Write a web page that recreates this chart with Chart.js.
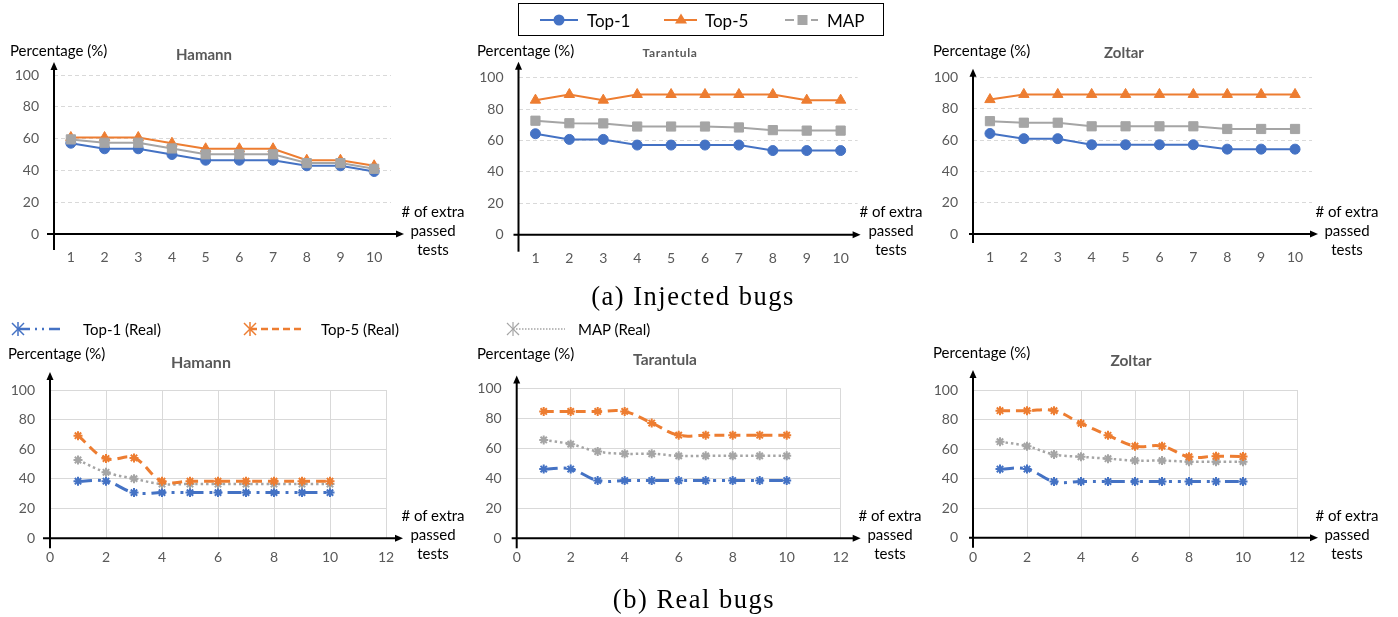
<!DOCTYPE html>
<html><head><meta charset="utf-8">
<script src="https://cdn.jsdelivr.net/npm/chart.js@4.4.1/dist/chart.umd.min.js"></script>
<style>
html,body{margin:0;padding:0;background:#fff;}
#page{position:relative;width:1398px;height:617px;overflow:hidden;font-family:Lato,'Open Sans',sans-serif;}
canvas{position:absolute;}
.t{position:absolute;white-space:nowrap;}
.c{transform:translate(-50%,-50%);}
.l{transform:translateY(-50%);}
.ylab{font-size:15px;color:#000;}
.title{font-weight:bold;color:#595959;}
.xlab{font-size:15px;color:#000;text-align:center;line-height:19px;transform:translate(-50%,0);}
.cap{font-family:'Liberation Serif',serif;font-size:26.5px;color:#000;letter-spacing:1.5px;}
.leg{font-size:17px;color:#000;}
.leg2{font-size:15px;color:#000;}
</style></head>
<body><div id="page">
<div id="legTop" style="position:absolute;left:518px;top:3px;width:364px;height:31px;border:1.5px solid #000;"></div>
<svg style="position:absolute;left:0;top:0" width="1398" height="617" id="legsvg">
  <line x1="540" y1="20" x2="578" y2="20" stroke="#4472C4" stroke-width="2"/>
  <circle cx="559" cy="20" r="5.5" fill="#4472C4"/>
  <line x1="664" y1="20" x2="697" y2="20" stroke="#ED7D31" stroke-width="2"/>
  <polygon points="681,13.5 687,23.5 675,23.5" fill="#ED7D31"/>
  <line x1="785" y1="20" x2="794" y2="20" stroke="#A5A5A5" stroke-width="2"/>
  <rect x="797.5" y="15" width="10" height="10" fill="#A5A5A5"/>
  <line x1="811" y1="20" x2="818" y2="20" stroke="#A5A5A5" stroke-width="2"/>
  <g stroke="#4472C4" stroke-width="1.5">
    <line x1="12" y1="323" x2="24" y2="335"/><line x1="12" y1="335" x2="24" y2="323"/><line x1="18" y1="322" x2="18" y2="336"/>
  </g>
  <path d="M18 329 H60" stroke="#4472C4" stroke-width="2.5" stroke-dasharray="12,5,2,5,2,5,20"/>
  <g stroke="#ED7D31" stroke-width="1.5">
    <line x1="244" y1="323" x2="256" y2="335"/><line x1="244" y1="335" x2="256" y2="323"/><line x1="250" y1="322" x2="250" y2="336"/>
  </g>
  <path d="M250 329 H304" stroke="#ED7D31" stroke-width="2.5" stroke-dasharray="7,4"/>
  <g stroke="#A5A5A5" stroke-width="1.2">
    <line x1="507" y1="323" x2="519" y2="335"/><line x1="507" y1="335" x2="519" y2="323"/><line x1="513" y1="322" x2="513" y2="336"/>
  </g>
  <path d="M513 329 H565" stroke="#A5A5A5" stroke-width="1.5" stroke-dasharray="1.5,1.5"/>
</svg>
<div class="t leg l" style="left:587px;top:20px">Top-1</div>
<div class="t leg l" style="left:705px;top:20px">Top-5</div>
<div class="t leg l" style="left:827px;top:20px">MAP</div>
<div class="t leg2 l" style="left:83px;top:329px">Top-1 (Real)</div>
<div class="t leg2 l" style="left:321px;top:329px">Top-5 (Real)</div>
<div class="t leg2 l" style="left:578px;top:329px">MAP (Real)</div>

<div class="t ylab l" style="left:10px;top:50px">Percentage (%)</div>
<div class="t ylab l" style="left:477px;top:50px">Percentage (%)</div>
<div class="t ylab l" style="left:933px;top:50px">Percentage (%)</div>
<div class="t ylab l" style="left:8px;top:353px">Percentage (%)</div>
<div class="t ylab l" style="left:477px;top:353px">Percentage (%)</div>
<div class="t ylab l" style="left:933px;top:352px">Percentage (%)</div>

<div class="t title c" style="left:204px;top:54px;font-size:15px">Hamann</div>
<div class="t title c" style="left:670px;top:52px;font-size:12px;letter-spacing:0.6px">Tarantula</div>
<div class="t title c" style="left:1124px;top:52px;font-size:15px">Zoltar</div>
<div class="t title c" style="left:201px;top:361px;font-size:16px">Hamann</div>
<div class="t title c" style="left:665px;top:359px;font-size:15.5px">Tarantula</div>
<div class="t title c" style="left:1131px;top:360px;font-size:15.5px">Zoltar</div>

<div class="t xlab" style="left:433px;top:202px"># of extra<br>passed<br>tests</div>
<div class="t xlab" style="left:891px;top:202px"># of extra<br>passed<br>tests</div>
<div class="t xlab" style="left:1347px;top:202px"># of extra<br>passed<br>tests</div>
<div class="t xlab" style="left:433px;top:506px"># of extra<br>passed<br>tests</div>
<div class="t xlab" style="left:890px;top:506px"># of extra<br>passed<br>tests</div>
<div class="t xlab" style="left:1347px;top:506px"># of extra<br>passed<br>tests</div>

<div class="t cap c" style="left:693px;top:296px">(a) Injected bugs</div>
<div class="t cap c" style="left:694px;top:599px">(b) Real bugs</div>
</div>
<script>
// ---------- DATA ----------
const xCats = ['1','2','3','4','5','6','7','8','9','10'];
const realX = [1,2,3,4,5,6,7,8,9,10];
const yTicks = [0,20,40,60,80,100];
const xTicksReal = [0,2,4,6,8,10,12];

const hamannTop1 = [57.1, 53.6, 53.6, 50.0, 46.4, 46.4, 46.4, 42.9, 42.9, 39.3];
const hamannTop5 = [60.7, 60.7, 60.7, 57.1, 53.6, 53.6, 53.6, 46.4, 46.4, 42.9];
const hamannMAP  = [59.5, 57.4, 57.4, 53.8, 50.1, 50.1, 50.1, 44.6, 44.6, 41.0];

const tarantulaTop1 = [64.3, 60.7, 60.7, 57.1, 57.1, 57.1, 57.1, 53.6, 53.6, 53.6];
const tarantulaTop5 = [85.7, 89.3, 85.7, 89.3, 89.3, 89.3, 89.3, 89.3, 85.7, 85.7];
const tarantulaMAP  = [72.6, 71.0, 70.9, 68.9, 68.9, 68.9, 68.3, 66.6, 66.3, 66.3];

const zoltarTop1 = [64.3, 61.0, 61.0, 57.1, 57.1, 57.1, 57.1, 54.3, 54.3, 54.3];
const zoltarTop5 = [86.0, 89.3, 89.3, 89.3, 89.3, 89.3, 89.3, 89.3, 89.3, 89.3];
const zoltarMAP  = [72.2, 71.2, 71.2, 68.9, 68.9, 68.9, 68.9, 67.2, 67.2, 67.2];

const hamannRealTop1 = [38.5, 38.5, 30.8, 30.8, 30.8, 30.8, 30.8, 30.8, 30.8, 30.8];
const hamannRealTop5 = [69.2, 53.8, 54.2, 38.5, 38.5, 38.5, 38.5, 38.5, 38.5, 38.5];
const hamannRealMAP  = [52.8, 44.5, 40.2, 36.6, 36.6, 36.6, 36.6, 36.6, 36.6, 36.6];

const tarantulaRealTop1 = [46.2, 46.2, 38.5, 38.5, 38.5, 38.5, 38.5, 38.5, 38.5, 38.5];
const tarantulaRealTop5 = [84.6, 84.6, 84.6, 84.6, 76.9, 68.8, 68.8, 68.8, 68.8, 68.8];
const tarantulaRealMAP  = [65.6, 62.8, 57.9, 56.4, 56.4, 55.0, 55.0, 55.0, 55.0, 55.0];

const zoltarRealTop1 = [46.5, 46.5, 38.0, 38.0, 38.0, 38.0, 38.0, 38.0, 38.0, 38.0];
const zoltarRealTop5 = [86.0, 86.0, 86.0, 77.4, 69.3, 62.0, 62.0, 54.8, 55.2, 55.0];
const zoltarRealMAP  = [65.0, 62.0, 56.4, 54.8, 53.5, 52.2, 52.2, 51.5, 51.5, 51.5];

// ---------- STYLE / LAYOUT ----------
const BLUE = '#4472C4', ORANGE = '#ED7D31', GRAY = '#A5A5A5', TICK = '#595959', GRID = '#d9d9d9';
Chart.defaults.font.family = 'Lato, "Open Sans", sans-serif';

const LAYOUT = {
  c1: {box:[0,40,460,235],   area:[54,75,391,234],     xH:40, tickPad:15, arrow:{above:13,below:16,left:7,right:13}},
  c2: {box:[460,40,460,235], area:[518.5,77.7,857.6,234.7], xH:40, tickPad:15, arrow:{above:16,below:17,left:5,right:3}},
  c3: {box:[920,40,478,235], area:[973,77.7,1312,234], xH:40, tickPad:15, arrow:{above:9,below:9,left:4,right:6}},
  c4: {box:[0,365,460,210],   area:[50,390,386,538.3],  xH:36, tickPad:11, arrow:{above:18,below:10,left:7,right:17}},
  c5: {box:[460,365,460,210], area:[516.7,384,840.7,538.3], xH:36, tickPad:11, arrow:{above:13,below:10,left:5,right:20}},
  c6: {box:[920,365,478,210], area:[973,390,1297,537.7], xH:36, tickPad:11, arrow:{above:20,below:10,left:4,right:21}}
};

const arrowAxes = {
  id: 'arrowAxes',
  afterDraw(chart, args, o) {
    const ctx = chart.ctx, a = chart.chartArea;
    const x0 = chart.scales.x.left;
    const y0 = chart.scales.y.getPixelForValue(0);
    ctx.save();
    ctx.strokeStyle = '#000'; ctx.fillStyle = '#000'; ctx.lineWidth = 2;
    const yTop = a.top - o.above;
    ctx.beginPath(); ctx.moveTo(x0, a.bottom + o.below); ctx.lineTo(x0, yTop + 6); ctx.stroke();
    ctx.beginPath(); ctx.moveTo(x0, yTop); ctx.lineTo(x0 - 3.5, yTop + 8); ctx.lineTo(x0 + 3.5, yTop + 8); ctx.closePath(); ctx.fill();
    const xEnd = a.right + o.right;
    ctx.beginPath(); ctx.moveTo(a.left - o.left, y0); ctx.lineTo(xEnd - 6, y0); ctx.stroke();
    ctx.beginPath(); ctx.moveTo(xEnd, y0); ctx.lineTo(xEnd - 8, y0 - 3.5); ctx.lineTo(xEnd - 8, y0 + 3.5); ctx.closePath(); ctx.fill();
    ctx.restore();
  }
};

function makeChart(id, datasets, injected) {
  const L = LAYOUT[id];
  const page = document.getElementById('page');
  const cv = document.createElement('canvas');
  cv.width = L.box[2]; cv.height = L.box[3];
  cv.style.left = L.box[0] + 'px'; cv.style.top = L.box[1] + 'px';
  cv.style.width = L.box[2] + 'px'; cv.style.height = L.box[3] + 'px';
  page.insertBefore(cv, page.firstChild);
  const yW = L.area[0] - L.box[0];
  const pad = {
    left: 0,
    top: L.area[1] - L.box[1],
    right: L.box[0] + L.box[2] - L.area[2],
    bottom: Math.max(0, L.box[1] + L.box[3] - L.area[3] - L.xH)
  };
  const tickFont = {size: 14, family: 'Lato, "Open Sans", sans-serif'};
  const xScale = injected ? {
    type: 'category', labels: xCats, offset: true,
    grid: {display: false, drawTicks: false}, border: {display: false},
    ticks: {color: TICK, font: tickFont, padding: L.tickPad, maxRotation: 0, autoSkip: false},
    afterFit: s => { s.height = L.xH; }
  } : {
    type: 'linear', min: 0, max: 12,
    afterBuildTicks: s => { s.ticks = xTicksReal.map(v => ({value: v})); },
    grid: {display: true, color: GRID, lineWidth: 1, drawTicks: false}, border: {display: false},
    ticks: {color: TICK, font: tickFont, padding: L.tickPad, maxRotation: 0},
    afterFit: s => { s.height = L.xH; }
  };
  return new Chart(cv, {
    type: 'line',
    data: injected ? {labels: xCats, datasets} : {datasets},
    options: {
      responsive: false, animation: false, devicePixelRatio: 1,
      layout: {padding: pad},
      plugins: {legend: {display: false}, tooltip: {enabled: false}, title: {display: false}, arrowAxes: L.arrow},
      scales: {
        x: xScale,
        y: {
          min: 0, max: 100,
          afterBuildTicks: s => { s.ticks = yTicks.map(v => ({value: v})); },
          grid: {display: true, color: GRID, lineWidth: 1, drawTicks: false},
          border: {display: false, dash: injected ? [4, 3] : []},
          ticks: {color: TICK, font: tickFont, padding: 15},
          afterFit: s => { s.width = yW; }
        }
      }
    },
    plugins: [arrowAxes]
  });
}

function injSets(t1, t5, map) {
  return [
    {data: t1, borderColor: BLUE, backgroundColor: BLUE, borderWidth: 2, pointStyle: 'circle', pointRadius: 5, pointBorderWidth: 1, pointBorderColor: BLUE, pointBackgroundColor: BLUE, tension: 0, order: 3},
    {data: t5, borderColor: ORANGE, backgroundColor: ORANGE, borderWidth: 2, pointStyle: 'triangle', pointRadius: 6, pointBorderWidth: 1, pointBorderColor: ORANGE, pointBackgroundColor: ORANGE, tension: 0, order: 2},
    {data: map, borderColor: GRAY, backgroundColor: GRAY, borderWidth: 2, pointStyle: 'rect', pointRadius: 6.5, pointBorderWidth: 1, pointBorderColor: GRAY, pointBackgroundColor: GRAY, tension: 0, order: 1}
  ];
}
function xy(vals) { return realX.map((x, i) => ({x: x, y: vals[i]})); }
function realSets(t1, t5, map) {
  return [
    {data: xy(t1), borderColor: BLUE, borderWidth: 3, borderDash: [14, 6, 3, 6, 3, 6], pointStyle: 'star', pointRadius: 4.5, pointBorderWidth: 2, pointBorderColor: BLUE, pointBackgroundColor: BLUE, tension: 0.4, order: 3},
    {data: xy(t5), borderColor: ORANGE, borderWidth: 3, borderDash: [10, 6], pointStyle: 'star', pointRadius: 4.5, pointBorderWidth: 2, pointBorderColor: ORANGE, pointBackgroundColor: ORANGE, tension: 0.4, order: 1},
    {data: xy(map), borderColor: GRAY, borderWidth: 2.5, borderDash: [2.5, 3], pointStyle: 'star', pointRadius: 4.5, pointBorderWidth: 2, pointBorderColor: GRAY, pointBackgroundColor: GRAY, tension: 0.4, order: 2}
  ];
}

makeChart('c1', injSets(hamannTop1, hamannTop5, hamannMAP), true);
makeChart('c2', injSets(tarantulaTop1, tarantulaTop5, tarantulaMAP), true);
makeChart('c3', injSets(zoltarTop1, zoltarTop5, zoltarMAP), true);
makeChart('c4', realSets(hamannRealTop1, hamannRealTop5, hamannRealMAP), false);
makeChart('c5', realSets(tarantulaRealTop1, tarantulaRealTop5, tarantulaRealMAP), false);
makeChart('c6', realSets(zoltarRealTop1, zoltarRealTop5, zoltarRealMAP), false);
</script>
</body></html>
